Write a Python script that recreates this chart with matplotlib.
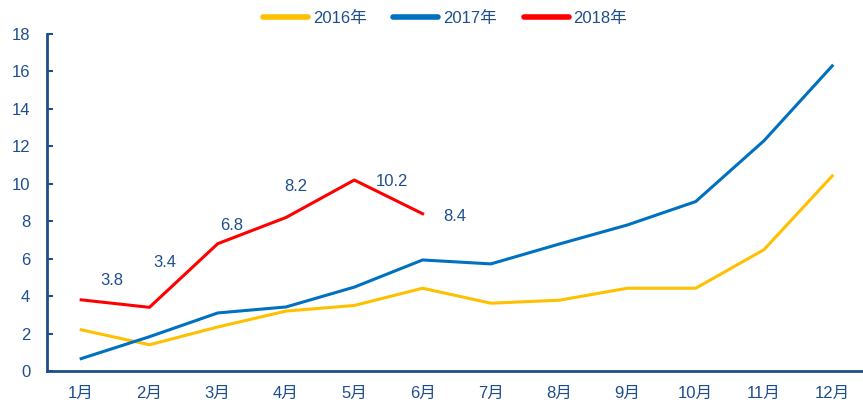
import matplotlib
matplotlib.use("Agg")
import matplotlib.pyplot as plt

plt.rcParams['font.family'] = ['Liberation Sans', 'Noto Sans CJK SC', 'DejaVu Sans']

months = ['1月', '2月', '3月', '4月', '5月', '6月',
          '7月', '8月', '9月', '10月', '11月', '12月']
y2016 = [2.2, 1.4, 2.35, 3.2, 3.5, 4.42, 3.62, 3.78, 4.42, 4.42, 6.48, 10.42]
y2017 = [0.66, 1.83, 3.1, 3.42, 4.48, 5.93, 5.72, 6.78, 7.8, 9.05, 12.3, 16.3]
y2018 = [3.8, 3.4, 6.8, 8.2, 10.2, 8.4]
labels2018 = ['3.8', '3.4', '6.8', '8.2', '10.2', '8.4']
# label offsets in points (dx, dy) relative to the data point
label_offsets = [(22, 14), (11, 32), (10, 13), (7, 22), (27, -1), (23, -2)]

TEXT = '#1F4E8C'
AXIS = '#1F4E8C'


def main():
    fig = plt.figure(figsize=(8.63, 4.05), dpi=100)
    ax = fig.add_axes([0.0545, 0.084, 0.9455, 0.832])

    x = range(len(months))
    ax.plot(x, y2016, color='#FFC000', lw=2.2, label='2016年')
    ax.plot(x, y2017, color='#0070C0', lw=2.2, label='2017年')
    ax.plot(range(len(y2018)), y2018, color='#FF0000', lw=2.2, label='2018年')

    for i, (v, t) in enumerate(zip(y2018, labels2018)):
        ax.annotate(t, (i, v), xytext=label_offsets[i], textcoords='offset points',
                    ha='center', va='center', fontsize=12, color=TEXT)

    ax.set_xlim(-0.5, 11.45)
    ax.set_ylim(0, 18)
    ax.set_yticks(range(0, 19, 2))
    ax.set_xticks(list(x))
    ax.set_xticklabels(months)

    for side in ['top', 'right']:
        ax.spines[side].set_visible(False)
    for side in ['left', 'bottom']:
        ax.spines[side].set_color(AXIS)
        ax.spines[side].set_linewidth(2)

    ax.tick_params(axis='y', direction='in', length=4, width=1.5, color=AXIS,
                   labelsize=12, labelcolor=TEXT, pad=12)
    ax.tick_params(axis='x', length=0, labelsize=12, labelcolor=TEXT, pad=11)

    leg = fig.legend(loc='center', bbox_to_anchor=(445 / 863, 1 - 18 / 405),
                     ncol=3, frameon=False, fontsize=12, handlelength=2.7,
                     handletextpad=0.3, columnspacing=1.6)
    for line in leg.get_lines():
        line.set_linewidth(4)
        line.set_solid_capstyle('round')
    for t in leg.get_texts():
        t.set_color(TEXT)

    fig.savefig('out.png', dpi=100)
    plt.close(fig)


if __name__ == "__main__":
    main()
